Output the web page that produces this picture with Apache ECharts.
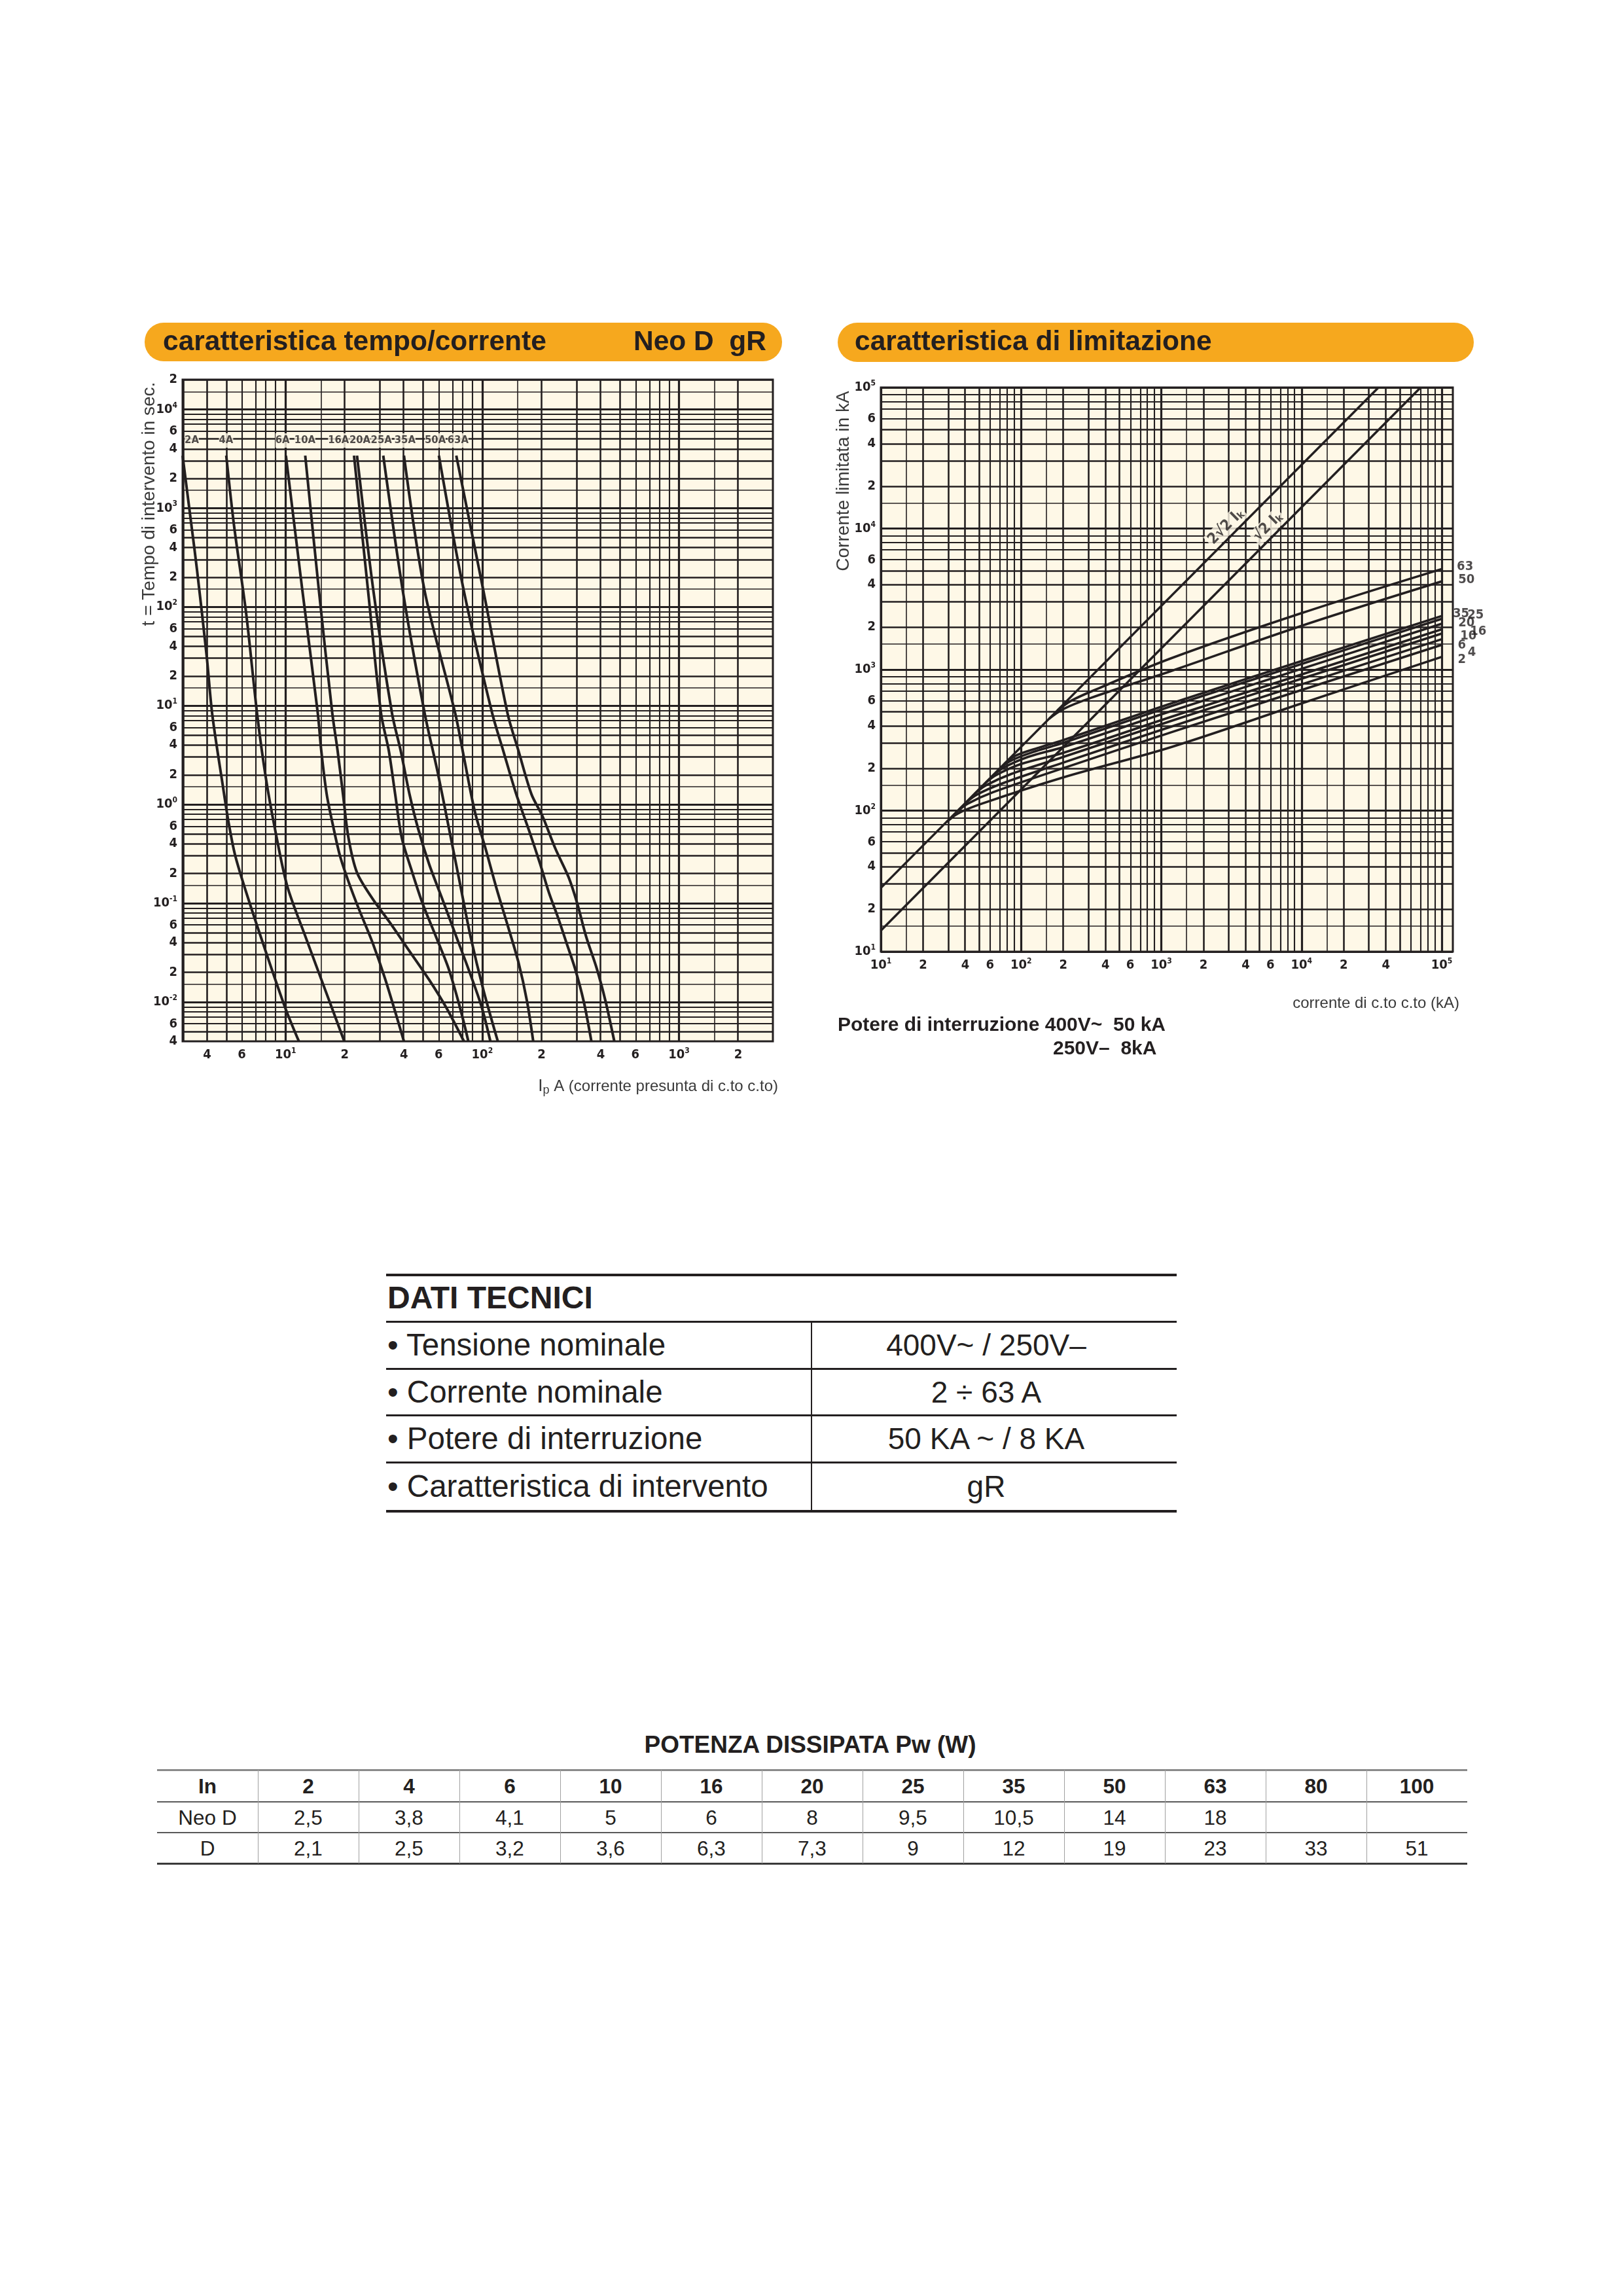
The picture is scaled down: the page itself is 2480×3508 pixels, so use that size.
<!DOCTYPE html>
<html lang="it">
<head>
<meta charset="utf-8">
<title>Neo D gR</title>
<script src="https://cdn.jsdelivr.net/npm/echarts@6.0.0/dist/echarts.min.js"></script>
<style>
html,body{margin:0;padding:0;background:#ffffff;}
#page{position:relative;width:2480px;height:3508px;overflow:hidden;background:#fff;}
#chart{position:absolute;left:0;top:0;width:2480px;height:1750px;}
</style>
</head>
<body>
<div id="page"><div id="chart"></div></div>
<script>
// ================= DATA =================
// --- caratteristica tempo/corrente : points [corrente presunta (A), tempo (s)]
const TC_RATINGS = ['2A','4A','6A','10A','16A','20A','25A','35A','50A','63A'];
const TC_2A  = [[3.0,3400],[3.33,662],[3.55,239],[3.98,31.3],[4.25,8.0],[4.82,1.48],[5.14,0.656],[5.55,0.305],[6.47,0.111],[7.93,0.0327],[9.98,0.0087],[11.7,0.004]];
const TC_4A  = [[5.0,3400],[5.48,662],[6.31,86.5],[7.19,8.0],[7.93,1.91],[8.89,0.535],[10.2,0.150],[12.6,0.0466],[16.6,0.0106],[19.9,0.004]];
const TC_6A  = [[10.05,3400],[12.2,144],[14.6,8.34],[15.2,3.51],[16.2,1.27],[17.5,0.593],[18.9,0.305],[20.9,0.166],[23.7,0.0857],[27.7,0.040],[32.2,0.0168],[40.0,0.004]];
const TC_10A = [[12.6,3400],[14.8,144],[17.3,8.34],[18.4,3.51],[19.6,1.27],[20.9,0.459],[23.1,0.204],[27.7,0.111],[33.9,0.0639],[42.7,0.0327],[53.7,0.0168],[65.8,0.0087],[80.7,0.004]];
const TC_16A = [[22.3,3400],[26.3,144],[30.6,8.34],[33.5,3.51],[36.1,1.27],[39.0,0.459],[43.8,0.214],[49.7,0.100],[58.0,0.0466],[67.5,0.0217],[76.7,0.0091],[85.0,0.004]];
const TC_20A = [[23.1,3400],[28.0,144],[34.8,8.34],[38.5,3.51],[42.7,1.27],[47.3,0.562],[53.7,0.249],[62.6,0.111],[72.9,0.049],[85.0,0.0217],[99.0,0.0091],[110,0.004]];
const TC_25A = [[31.4,3400],[39.5,144],[51.0,8.34],[59.4,2.11],[67.5,0.593],[76.7,0.166],[87.1,0.0466],[101.5,0.0131],[120,0.004]];
const TC_35A = [[40.0,3400],[51.0,144],[72.9,8.34],[80.7,3.01],[91.7,0.846],[104,0.356],[118,0.143],[134.5,0.0601],[152.7,0.0253],[169,0.0101],[181.6,0.004]];
const TC_50A = [[60.2,3400],[80.7,144],[112.4,8.34],[127.8,3.51],[148.9,1.27],[173.5,0.535],[197,0.249],[218,0.129],[241.6,0.0735],[267.7,0.040],[296.4,0.0217],[328,0.0101],[358.7,0.004]];
const TC_63A = [[73.8,3400],[101.5,144],[134.5,8.34],[152.7,3.51],[177.9,1.27],[202.2,0.764],[235.5,0.356],[274.5,0.184],[303.8,0.100],[336.6,0.0466],[382.3,0.0217],[423.7,0.0101],[469,0.004]];
const TC_CURVES = [TC_2A,TC_4A,TC_6A,TC_10A,TC_16A,TC_20A,TC_25A,TC_35A,TC_50A,TC_63A];
const TC_LABEL_X = [3.34,4.99,9.66,12.55,18.6,23.9,30.7,40.5,57.7,75.3];   // A, label row
const TC_LABEL_T = 4840;                                                   // s, label row
const TC_X_RANGE = [3,3000];
const TC_Y_RANGE = [0.004,20000];
const TC_X_TICKS = [4,6,10,20,40,60,100,200,400,600,1000,2000];
const TC_Y_TICKS = [0.004,0.006,0.01,0.02,0.04,0.06,0.1,0.2,0.4,0.6,1,2,4,6,10,20,40,60,100,200,400,600,1000,2000,4000,6000,10000,20000];

// --- caratteristica di limitazione : points [corrente di c.to c.to, corrente limitata]
const LIM_RATINGS = ['2','4','6','10','16','20','25','35','50','63'];
const LIM_2A  = [[29.5,83],[35.5,95.5],[52.5,112],[200,172],[1175,282],[10000,575],[100000,1230]];
const LIM_4A  = [[34.7,97.7],[41.7,112],[63.1,135],[200,200],[1175,359],[10000,716],[100000,1496]];
const LIM_6A  = [[39.8,112],[47.9,129],[72.4,155],[200,219],[1175,394],[10000,785],[100000,1641]];
const LIM_10A = [[46.8,132],[56.2,151],[85.1,182],[200,240],[1175,432],[10000,861],[100000,1799]];
const LIM_16A = [[55,155],[66.1,178],[100,214],[200,257],[1175,462],[10000,923],[100000,1928]];
const LIM_20A = [[61.7,174],[74.1,200],[112,240],[200,282],[1175,507],[10000,1012],[100000,2113]];
const LIM_25A = [[69.2,195],[83.2,224],[126,263],[200,302],[1175,550],[10000,1096],[100000,2291]];
const LIM_35A = [[75.9,214],[91.2,245],[138,282],[200,316],[1175,575],[10000,1148],[100000,2399]];
const LIM_50A = [[158,447],[200,525],[316,631],[1175,977],[10000,2042],[100000,4217]];
const LIM_63A = [[182,513],[229,603],[363,741],[1175,1202],[10000,2512],[100000,5164]];
const LIM_CURVES = [LIM_2A,LIM_4A,LIM_6A,LIM_10A,LIM_16A,LIM_20A,LIM_25A,LIM_35A,LIM_50A,LIM_63A];
const LIM_PEAK_2SQ2 = [[10,28.3],[35400,100000]];
const LIM_PEAK_SQ2  = [[10,14.1],[70700,100000]];
const LIM_PEAK_LABEL_X = [2890,5750];
const LIM_PEAK_LABEL_Y = [10300,10300];
const LIM_END_LABEL_X = [139000,163700,139000,154900,182000,150000,174200,137400,150000,146600];
const LIM_END_LABEL_Y = [1175,1318,1486,1726,1862,2138,2427,2477,4325,5360];
const LIM_X_RANGE = [10,120000];
const LIM_Y_RANGE = [10,100000];
const LIM_X_TICKS = [10,20,40,60,100,200,400,600,1000,2000,4000,6000,10000,20000,40000,100000];
const LIM_Y_TICKS = [10,20,40,60,100,200,400,600,1000,2000,4000,6000,10000,20000,40000,60000,100000];

const GRID_MANTISSAS = [1,1.5,2,3,4,5,6,7,8,9];

// --- tables
const DT_LABELS = ['Tensione nominale','Corrente nominale','Potere di interruzione','Caratteristica di intervento'];
const DT_VALUES = ['400V~ / 250V–','2 ÷ 63 A','50 KA ~ / 8 KA','gR'];
const PW_ROW_NAMES = ['In','Neo D','D'];
const PW_IN   = ['2','4','6','10','16','20','25','35','50','63','80','100'];
const PW_NEOD = ['2,5','3,8','4,1','5','6','8','9,5','10,5','14','18','',''];
const PW_D    = ['2,1','2,5','3,2','3,6','6,3','7,3','9','12','19','23','33','51'];

// ================= STYLE =================
const INK = '#231f20';
const CREAM = '#fef8e7';
const ORANGE = '#f6a81e';
const SANS = "'Liberation Sans', Arial, Helvetica, sans-serif";

function hasFont(name) {
  const c = document.createElement('canvas').getContext('2d');
  const s = 'abcdefghijklmnop0123456789AWMmw';
  c.font = '40px monospace'; const w1 = c.measureText(s).width;
  c.font = "40px '" + name + "', monospace"; const w2 = c.measureText(s).width;
  c.font = '40px serif'; const w3 = c.measureText(s).width;
  c.font = "40px '" + name + "', serif"; const w4 = c.measureText(s).width;
  return Math.abs(w1 - w2) > 0.5 || Math.abs(w3 - w4) > 0.5;
}
const NARROW_NAME = ['Liberation Sans Narrow', 'DejaVu Sans Condensed', 'Roboto Condensed', 'Open Sans Condensed', 'Arial Narrow'].find(hasFont);
const NARROW = NARROW_NAME ? "'" + NARROW_NAME + "', " + SANS : SANS;
const NS = NARROW_NAME ? 1 : 0.84;   // size factor when no condensed face exists
const fs = v => Math.round(v * NS * 10) / 10;

const L = v => Math.log10(v);

function logGrid(range) {
  const out = [];
  for (let k = -4; k <= 6; k++) {
    for (const m of GRID_MANTISSAS) {
      const v = m * Math.pow(10, k);
      if (v >= range[0] * 0.9999 && v <= range[1] * 1.0001) out.push({ v, m });
    }
  }
  return out;
}
function gw(m) { return m === 1 ? 3.2 : (m === 1.5 ? 1.6 : (m <= 5 ? 2.6 : 2.1)); }

function gridSeries(idx, xr, yr) {
  const data = [];
  logGrid(xr).forEach(g => data.push({ xAxis: L(g.v), lineStyle: { width: gw(g.m) } }));
  logGrid(yr).forEach(g => data.push({ yAxis: L(g.v), lineStyle: { width: gw(g.m) } }));
  return {
    type: 'line', xAxisIndex: idx, yAxisIndex: idx, data: [], z: 1, silent: true,
    markLine: {
      silent: true, symbol: ['none', 'none'], label: { show: false }, emphasis: { disabled: true },
      animation: false, lineStyle: { color: INK, type: 'solid', width: 2 }, data
    }
  };
}

function tickFmt(v) {
  const e = Math.round(v);
  if (Math.abs(v - e) < 1e-6) return '{n|10}{e|' + e + '}';
  const m = Math.round(Math.pow(10, v - Math.floor(v + 1e-9)));
  return '{n|' + m + '}';
}
const RICH = {
  n: { fontFamily: NARROW, fontWeight: 'bold', fontSize: fs(20), lineHeight: 24, color: INK },
  e: { fontFamily: NARROW, fontWeight: 'bold', fontSize: fs(12), lineHeight: 12, verticalAlign: 'top', color: INK }
};
function logAxis(gridIndex, range, ticks, margin) {
  return {
    gridIndex, type: 'value', min: L(range[0]), max: L(range[1]),
    axisLine: { show: false }, axisTick: { show: false }, splitLine: { show: false },
    axisLabel: { customValues: ticks.map(L), formatter: tickFmt, rich: RICH, margin, color: INK }
  };
}
function curveSeries(idx, pts, name, width, smooth) {
  return {
    name, type: 'line', xAxisIndex: idx, yAxisIndex: idx, z: 3, silent: true,
    data: pts.map(p => [L(p[0]), L(p[1])]), symbol: 'none', showSymbol: false,
    smooth, lineStyle: { color: INK, width }, emphasis: { disabled: true }
  };
}

// ================= SERIES =================
const series = [];
series.push(gridSeries(0, TC_X_RANGE, TC_Y_RANGE));
TC_CURVES.forEach((c, i) => series.push(curveSeries(0, c, TC_RATINGS[i], 4, 0.3)));
series.push({
  type: 'scatter', xAxisIndex: 0, yAxisIndex: 0, z: 6, silent: true, symbolSize: 1,
  itemStyle: { color: 'rgba(0,0,0,0)' },
  data: TC_RATINGS.map((r, i) => ({ name: r, value: [L(TC_LABEL_X[i]), L(TC_LABEL_T)] })),
  label: { show: true, position: 'inside', formatter: '{b}', fontFamily: NARROW, fontWeight: 'bold',
           fontSize: fs(16.5), color: INK, backgroundColor: CREAM, padding: [3, 0, 2, 0] }
});

series.push(gridSeries(1, LIM_X_RANGE, LIM_Y_RANGE));
series.push(curveSeries(1, LIM_PEAK_2SQ2, '2√2 Ik', 3.5, false));
series.push(curveSeries(1, LIM_PEAK_SQ2, '√2 Ik', 3.5, false));
LIM_CURVES.forEach((c, i) => series.push(curveSeries(1, c, LIM_RATINGS[i], 3.6, 0.35)));
series.push({
  type: 'scatter', xAxisIndex: 1, yAxisIndex: 1, z: 6, silent: true, symbolSize: 1,
  itemStyle: { color: 'rgba(0,0,0,0)' },
  data: ['2√2', '√2'].map((t, i) => ({ name: t, value: [L(LIM_PEAK_LABEL_X[i]), L(LIM_PEAK_LABEL_Y[i])] })),
  label: { show: true, position: 'inside', rotate: 45, backgroundColor: CREAM, padding: [1, 3],
           formatter: p => '{a|' + p.name + ' I}{s|k}',
           rich: { a: { fontFamily: NARROW, fontWeight: 'bold', fontSize: fs(23), lineHeight: 24, color: INK },
                   s: { fontFamily: NARROW, fontWeight: 'bold', fontSize: fs(15), lineHeight: 15, verticalAlign: 'bottom', color: INK } } }
});
series.push({
  type: 'scatter', xAxisIndex: 1, yAxisIndex: 1, z: 6, silent: true, symbolSize: 1, clip: false,
  itemStyle: { color: 'rgba(0,0,0,0)' },
  data: LIM_RATINGS.map((r, i) => ({ name: r, value: [L(LIM_END_LABEL_X[i]), L(LIM_END_LABEL_Y[i])] })),
  label: { show: true, position: 'inside', formatter: '{b}', fontFamily: NARROW, fontWeight: 'bold', fontSize: fs(20), color: INK }
});

// ================= OPTION =================
const option = {
  animation: false,
  backgroundColor: '#ffffff',
  grid: [
    { left: 279, top: 580, width: 902, height: 1011, show: true, backgroundColor: CREAM, borderColor: INK, borderWidth: 3 },
    { left: 1346, top: 592, width: 874, height: 862, show: true, backgroundColor: CREAM, borderColor: INK, borderWidth: 3 }
  ],
  xAxis: [ logAxis(0, TC_X_RANGE, TC_X_TICKS, 9), logAxis(1, LIM_X_RANGE, LIM_X_TICKS, 9) ],
  yAxis: [ logAxis(0, TC_Y_RANGE, TC_Y_TICKS, 8), logAxis(1, LIM_Y_RANGE, LIM_Y_TICKS, 8) ],
  series,
  graphic: [
    { type: 'rect', silent: true, z: 50, shape: { x: 221, y: 493, width: 974, height: 59, r: 29 }, style: { fill: ORANGE } },
    { type: 'text', silent: true, z: 51, x: 249, y: 523, style: { text: 'caratteristica tempo/corrente', fill: INK, font: 'bold 42.5px ' + SANS, verticalAlign: 'middle' } },
    { type: 'text', silent: true, z: 51, x: 1171, y: 523, style: { text: 'Neo D  gR', fill: INK, font: 'bold 42.5px ' + SANS, align: 'right', verticalAlign: 'middle' } },
    { type: 'rect', silent: true, z: 50, shape: { x: 1280, y: 493, width: 972, height: 60, r: 30 }, style: { fill: ORANGE } },
    { type: 'text', silent: true, z: 51, x: 1306, y: 523, style: { text: 'caratteristica di limitazione', fill: INK, font: 'bold 42.5px ' + SANS, verticalAlign: 'middle' } },
    { type: 'text', silent: true, z: 51, x: 228, y: 770, rotation: Math.PI / 2, style: { text: 't = Tempo di intervento in sec.', fill: '#3a3a3a', font: '28px ' + SANS, align: 'center', verticalAlign: 'middle' } },
    { type: 'text', silent: true, z: 51, x: 1289, y: 735, rotation: Math.PI / 2, style: { text: 'Corrente limitata in kA', fill: '#3a3a3a', font: '28px ' + SANS, align: 'center', verticalAlign: 'middle' } },
    { type: 'text', silent: true, z: 51, x: 1189, y: 1660, style: { text: '{i|I}{p|p}{t| A (corrente presunta di c.to c.to)}', align: 'right', verticalAlign: 'middle',
        rich: { i: { font: '26px ' + SANS, fill: '#3a3a3a', lineHeight: 30 }, p: { font: '18px ' + SANS, fill: '#3a3a3a', lineHeight: 16, verticalAlign: 'bottom' }, t: { font: '24px ' + SANS, fill: '#3a3a3a', lineHeight: 30 } } } },
    { type: 'text', silent: true, z: 51, x: 2230, y: 1533, style: { text: 'corrente di c.to c.to (kA)', fill: '#3a3a3a', font: '24px ' + SANS, align: 'right', verticalAlign: 'middle' } },
    { type: 'text', silent: true, z: 51, x: 1280, y: 1567, style: { text: 'Potere di interruzione 400V~  50 kA', fill: INK, font: 'bold 30px ' + SANS, verticalAlign: 'middle' } },
    { type: 'text', silent: true, z: 51, x: 1609, y: 1603, style: { text: '250V–  8kA', fill: INK, font: 'bold 30px ' + SANS, verticalAlign: 'middle' } }
  ]
};

const chart = echarts.init(document.getElementById('chart'), null, { renderer: 'canvas' });
chart.setOption(option);

// ================= TABLES (HTML) =================
const page = document.getElementById('page');
function el(css, text) {
  const d = document.createElement('div');
  d.style.cssText = 'position:absolute;white-space:pre;color:' + INK + ';font-family:' + SANS + ';' + css;
  if (text !== undefined) d.textContent = text;
  page.appendChild(d);
  return d;
}
// DATI TECNICI
el('left:590px;top:1946px;width:1208px;height:4px;background:' + INK);
el('left:592px;top:1955px;height:56px;line-height:56px;font-size:48px;font-weight:bold;', 'DATI TECNICI');
const DT_ROWS_Y = [2019, 2091, 2162, 2234, 2308];
DT_ROWS_Y.forEach((y, i) => el('left:590px;top:' + (y - 1.5) + 'px;width:1208px;height:' + (i === DT_ROWS_Y.length - 1 ? 4 : 3) + 'px;background:' + INK));
el('left:1239px;top:2019px;width:2px;height:289px;background:' + INK);
DT_LABELS.forEach((t, i) => {
  const c = (DT_ROWS_Y[i] + DT_ROWS_Y[i + 1]) / 2;
  el('left:592px;top:' + (c - 28) + 'px;height:56px;line-height:56px;font-size:47.5px;', '• ' + t);
  el('left:1240px;width:534px;text-align:center;top:' + (c - 28) + 'px;height:56px;line-height:56px;font-size:46px;', DT_VALUES[i]);
});
// POTENZA DISSIPATA
el('left:738px;width:1000px;text-align:center;top:2645px;height:42px;line-height:42px;font-size:37px;font-weight:bold;', 'POTENZA DISSIPATA Pw (W)');
const PW_LEFT = 240, PW_COL = 154, PW_W = 154 * 13;
el('left:' + PW_LEFT + 'px;top:2703px;width:' + PW_W + 'px;height:3px;background:#8a8a8a');
el('left:' + PW_LEFT + 'px;top:2752px;width:' + PW_W + 'px;height:2px;background:#5a5a5a');
el('left:' + PW_LEFT + 'px;top:2799px;width:' + PW_W + 'px;height:2px;background:#5a5a5a');
el('left:' + PW_LEFT + 'px;top:2846px;width:' + PW_W + 'px;height:3px;background:#3a3a3a');
for (let k = 1; k < 13; k++) el('left:' + (PW_LEFT + PW_COL * k - 0.5) + 'px;top:2704px;width:1.5px;height:143px;background:#a0a0a0');
const PW_ROWS = [[PW_ROW_NAMES[0]].concat(PW_IN), [PW_ROW_NAMES[1]].concat(PW_NEOD), [PW_ROW_NAMES[2]].concat(PW_D)];
const PW_CY = [2729, 2776.5, 2823.5];
PW_ROWS.forEach((row, r) => row.forEach((t, c) => {
  el('left:' + (PW_LEFT + PW_COL * c) + 'px;width:' + PW_COL + 'px;text-align:center;top:' + (PW_CY[r] - 18) + 'px;height:36px;line-height:36px;font-size:31.5px;' + (r === 0 ? 'font-weight:bold;' : ''), t);
}));
</script>
</body>
</html>
